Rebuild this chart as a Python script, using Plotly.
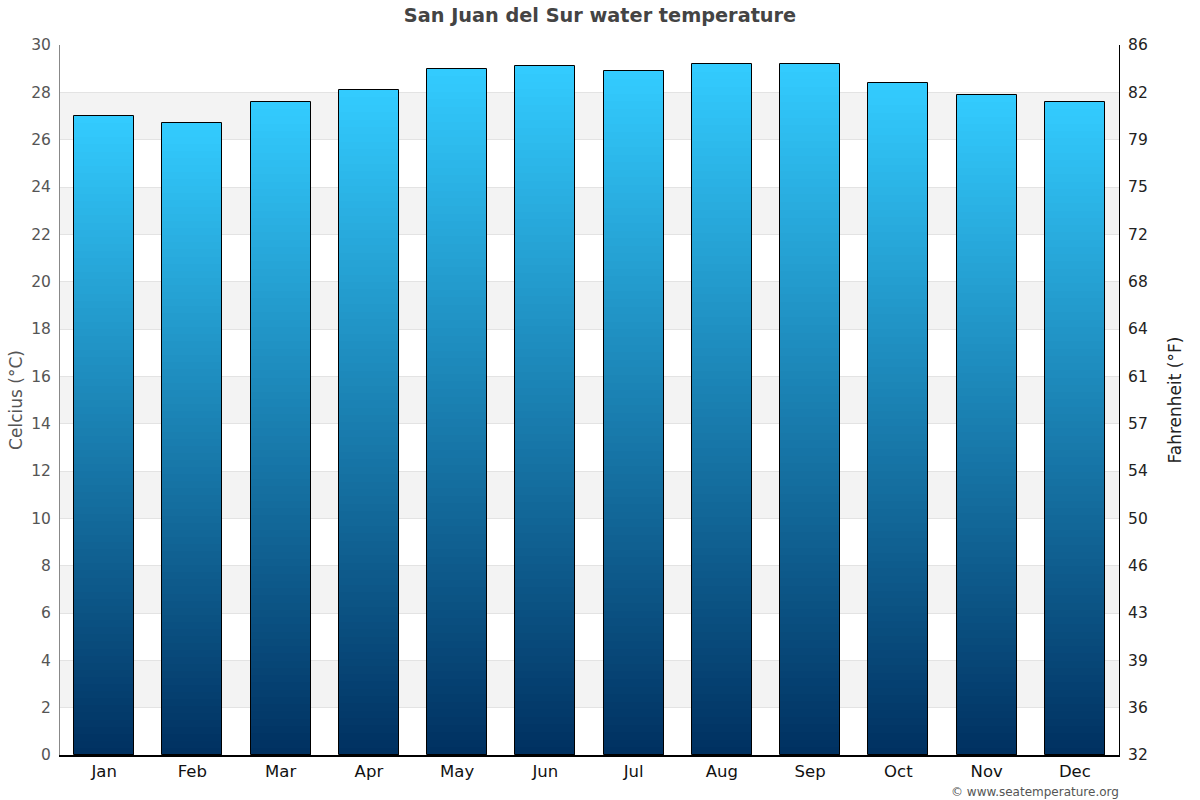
import plotly.graph_objects as go

months = ["Jan", "Feb", "Mar", "Apr", "May", "Jun", "Jul", "Aug", "Sep", "Oct", "Nov", "Dec"]
water_c = [27.0, 26.7, 27.6, 28.1, 29.0, 29.1, 28.9, 29.2, 29.2, 28.4, 27.9, 27.6]
c_ticks = [0, 2, 4, 6, 8, 10, 12, 14, 16, 18, 20, 22, 24, 26, 28, 30]
f_labels = ["32", "36", "39", "43", "46", "50", "54", "57", "61", "64", "68", "72", "75", "79", "82", "86"]

# gradient ends for the bars (bottom -> top)
bottom_rgb = (0, 48, 96)
top_rgb = (51, 204, 255)
steps = 90

fig = go.Figure()

# fake a vertical gradient by layering thin slices of every bar
for i in range(steps):
    t = (i + 0.5) / steps
    col = "rgb(%d,%d,%d)" % tuple(round(b + (tp - b) * t) for b, tp in zip(bottom_rgb, top_rgb))
    fig.add_trace(go.Bar(
        x=months,
        y=[v / steps * 1.02 for v in water_c],
        base=[v * i / steps for v in water_c],
        marker=dict(color=col, line=dict(width=0)),
        width=0.68,
        hoverinfo="skip",
        showlegend=False,
    ))

# outline
fig.add_trace(go.Bar(
    x=months,
    y=water_c,
    marker=dict(color="rgba(0,0,0,0)", line=dict(color="black", width=1)),
    width=0.68,
    hovertemplate="%{x}: %{y} °C<extra></extra>",
    showlegend=False,
))

# invisible trace so the Fahrenheit axis is drawn
fig.add_trace(go.Scatter(x=months, y=water_c, yaxis="y2", mode="markers",
                         marker=dict(opacity=0), hoverinfo="skip", showlegend=False))

# alternating bands
for a, b in zip(c_ticks[1::2], c_ticks[2::2]):
    if b <= 28:
        fig.add_shape(type="rect", xref="paper", yref="y", x0=0, x1=1, y0=a, y1=b,
                      fillcolor="#f3f3f3", line_width=0, layer="below")

fig.update_layout(
    width=1200, height=800,
    barmode="overlay",
    bargap=0,
    plot_bgcolor="white",
    paper_bgcolor="white",
    font=dict(family="DejaVu Sans", size=15, color="#333"),
    margin=dict(l=60, r=81, t=45, b=45),
    title=dict(text="<b>San Juan del Sur water temperature</b>", x=0.5, y=0.99, yanchor="top",
               font=dict(size=19.3, color="#444")),
    xaxis=dict(range=[-0.5, len(months) - 0.5], showline=True, linecolor="black", linewidth=2, ticks="",
               tickfont=dict(size=16.5, color="#111"), showgrid=False, automargin=False),
    yaxis=dict(range=[0, 30], tickvals=c_ticks, showgrid=True, gridcolor="#e3e3e3",
               showline=True, linecolor="#888", linewidth=1, zeroline=False, automargin=False,
               ticklabelstandoff=5, tickfont=dict(size=15.5, color="#555"),
               title=dict(text="Celcius (°C)", font=dict(size=17, color="#555"), standoff=4)),
    yaxis2=dict(range=[0, 30], overlaying="y", side="right", tickvals=c_ticks, ticktext=f_labels,
                showgrid=False, showline=True, linecolor="black", linewidth=1, zeroline=False,
                automargin=False, ticklabelstandoff=5, tickfont=dict(size=15.5, color="#222"),
                title=dict(text="Fahrenheit (°F)", font=dict(size=17, color="#222"), standoff=22)),
    annotations=[dict(text="© www.seatemperature.org", xref="paper", yref="paper", x=1, y=0,
                      xanchor="right", yanchor="top", yshift=-28, xshift=2, showarrow=False,
                      font=dict(size=12, color="#555"))],
)

fig.write_html("out.html", config={"displayModeBar": False},
               post_script="document.body.style.margin='0';")
